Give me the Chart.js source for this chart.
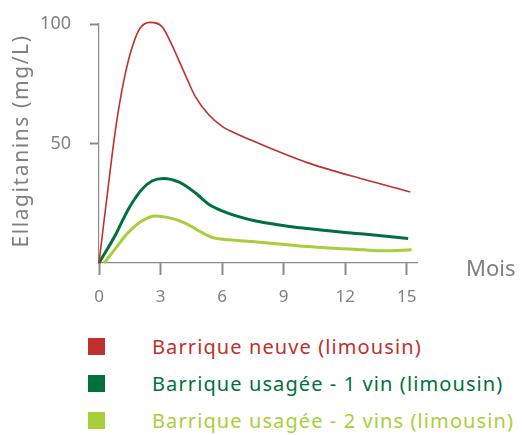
<!DOCTYPE html>
<html lang="fr">
<head>
<meta charset="UTF-8">
<title>Ellagitanins</title>
<style>
body { margin: 0; background: #fff; font-family: "Noto Sans", sans-serif; }
.wrap { position: relative; width: 523px; height: 310px; }
#legend { position: absolute; left: 88px; top: 328px; }
.row { display: flex; align-items: center; height: 37px; font-size: 20px; letter-spacing: 1.1px; white-space: nowrap; }
.box { width: 17px; height: 17px; margin-right: 47px; }
</style>
</head>
<body>
<div class="wrap"><canvas id="chart" width="523" height="310"></canvas></div>
<div id="legend"></div>
<script src="https://cdn.jsdelivr.net/npm/chart.js@4.4.1/dist/chart.umd.min.js"></script>
<script>
// values (x = mois, y = mg/L)
const neuveMois = [0, 0.65, 0.94, 1.27, 1.6, 2.0, 2.49, 3.07, 3.55, 4.2, 4.69, 5.35, 6.0, 6.81, 7.6, 10.15, 12.9, 15.17];
const neuveVals = [0, 46, 63.5, 78.8, 89.9, 98.2, 100.7, 98.9, 91.3, 78.8, 69.7, 62, 57.2, 53.7, 50.7, 42, 35, 29.7];
const usage1Mois = [0, 0.78, 1.43, 2.09, 2.58, 3.15, 3.88, 4.69, 5.35, 6.0, 6.81, 7.63, 10.15, 12.9, 15.07];
const usage1Vals = [0, 11.4, 22.5, 30.8, 34.3, 35.4, 33.9, 29.4, 24.6, 21.8, 19.4, 17.6, 14.4, 12.1, 10.3];
const usage2Mois = [0.25, 0.78, 1.43, 2.09, 2.74, 3.39, 4.2, 4.86, 5.51, 6.32, 7.6, 10.15, 12.9, 13.9, 15.24];
const usage2Vals = [0, 5.8, 12.8, 17.6, 19.7, 19, 16.7, 13.5, 10.7, 9.7, 8.9, 6.9, 5.5, 5.1, 5.5];
const labels = ['Barrique neuve (limousin)', 'Barrique usagée - 1 vin (limousin)', 'Barrique usagée - 2 vins (limousin)'];
const colors = ['#c0302c', '#00703c', '#a8cf3a'];
const xTicks = [0, 3, 6, 9, 12, 15];
const yTicks = [50, 100];

const pts = (xs, ys) => xs.map((x, i) => ({ x: x, y: ys[i] }));
const series = [pts(neuveMois, neuveVals), pts(usage1Mois, usage1Vals), pts(usage2Mois, usage2Vals)];
const widths = [1.6, 3, 3];
const grey = '#8a8a8a';

// axis titles drawn by hand: y title has wide letter spacing, "Mois" sits right of the axis
const axisTitles = {
  id: 'axisTitles',
  afterDraw(chart) {
    const ctx = chart.ctx, a = chart.chartArea;
    ctx.save();
    ctx.fillStyle = '#808080';
    ctx.textBaseline = 'middle';
    ctx.font = '22px "Noto Sans"';
    ctx.fillText('Mois', a.right + 49, 270);
    ctx.translate(22, 141);
    ctx.rotate(-Math.PI / 2);
    ctx.textAlign = 'center';
    ctx.font = '21px "Noto Sans"';
    ctx.letterSpacing = '1.6px';
    ctx.fillText('Ellagitanins (mg/L)', 0, 0);
    ctx.restore();
  }
};

new Chart(document.getElementById('chart'), {
  type: 'line',
  data: {
    datasets: series.map((d, i) => ({
      label: labels[i], data: d, borderColor: colors[i], borderWidth: widths[i],
      pointRadius: 0, fill: false, cubicInterpolationMode: 'monotone', clip: false
    }))
  },
  options: {
    responsive: false,
    animation: false,
    layout: { padding: { top: 24, right: 106, left: 0, bottom: 0 } },
    plugins: { legend: { display: false }, tooltip: { enabled: false } },
    scales: {
      x: {
        type: 'linear', min: 0, max: 15.5,
        afterBuildTicks: s => { s.ticks = xTicks.map(v => ({ value: v })); },
        afterFit: s => { s.height = 47; s.paddingLeft = 0; s.paddingRight = 0; },
        border: { color: grey, width: 1.2 },
        grid: { drawOnChartArea: false, drawTicks: true, tickLength: 12, tickColor: grey, tickWidth: 2 },
        ticks: { color: '#808080', font: { family: 'Noto Sans', size: 17 }, padding: 12, maxRotation: 0 }
      },
      y: {
        min: 0, max: 100,
        afterBuildTicks: s => { s.ticks = yTicks.map(v => ({ value: v })); },
        afterFit: s => { s.width = 99; s.paddingTop = 0; s.paddingBottom = 0; },
        border: { color: grey, width: 1.2 },
        grid: { drawOnChartArea: false, drawTicks: true, tickLength: 9, tickColor: grey, tickWidth: 2 },
        ticks: { color: '#808080', font: { family: 'Noto Sans', size: 18 }, padding: 19 }
      }
    }
  },
  plugins: [axisTitles]
});

const legend = document.getElementById('legend');
labels.forEach((t, i) => {
  const row = document.createElement('div');
  row.className = 'row';
  row.style.color = colors[i];
  row.innerHTML = '<span class="box" style="background:' + colors[i] + '"></span>' + t;
  legend.appendChild(row);
});
</script>
</body>
</html>
